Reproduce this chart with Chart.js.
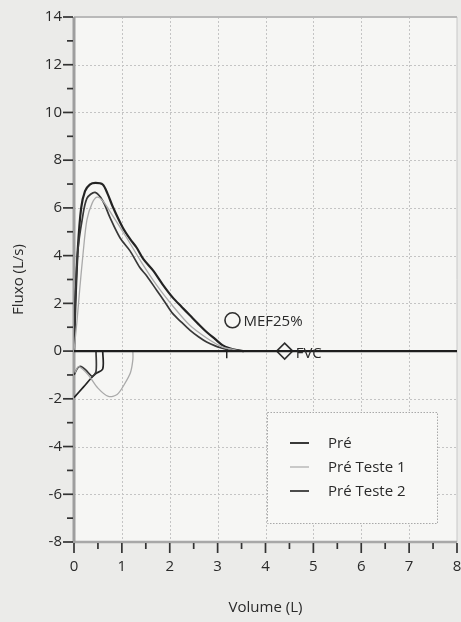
<!DOCTYPE html>
<html><head><meta charset="utf-8">
<script src="https://cdn.jsdelivr.net/npm/chart.js@4.4.1/dist/chart.umd.min.js"></script>
<style>html,body{margin:0;padding:0;background:#ebebe9;} #wrap{width:461px;height:622px;}</style>
</head><body><div id="wrap"><canvas id="c" width="461" height="622"></canvas></div>
<script>
// ---- data ----
const xTickValues = [0,1,2,3,4,5,6,7,8];
const yTickValues = [-8,-6,-4,-2,0,2,4,6,8,10,12,14];

// Pré (outer expiratory curve)
const preVol  = [0,0.03,0.08,0.15,0.23,0.33,0.45,0.6,0.7,0.81,1.02,1.17,1.31,1.45,1.65,1.85,2.06,2.25,2.42,2.6,2.77,2.95,3.1,3.25,3.4,3.55];
const preFlow = [0,2.0,4.3,6.0,6.7,6.98,7.05,6.98,6.6,6.05,5.17,4.7,4.33,3.85,3.38,2.8,2.25,1.85,1.5,1.13,0.8,0.5,0.25,0.12,0.04,0];
const preInVol  = [0,0.2,0.35,0.45,0.6,0.6];
const preInFlow = [-1.95,-1.5,-1.15,-0.95,-0.75,0];

// Pré Teste 1 (light grey)
const t1Vol  = [0,0.06,0.12,0.19,0.27,0.38,0.48,0.6,0.8,1.1,1.4,1.73,2.06,2.42,2.77,3.1,3.3,3.45];
const t1Flow = [0,1.2,2.6,4.1,5.5,6.2,6.45,6.3,5.7,4.75,3.75,2.75,1.9,1.08,0.55,0.17,0.08,0];
const t1InVol  = [0.02,0.1,0.3,0.5,0.72,0.9,1.05,1.18,1.23,1.23];
const t1InFlow = [-0.9,-0.65,-1.0,-1.55,-1.9,-1.82,-1.4,-0.9,-0.35,0];

// Pré Teste 2 (inner dark curve)
const t2Vol  = [0,0.03,0.08,0.17,0.27,0.44,0.6,0.75,0.96,1.17,1.375,1.52,1.73,1.9,2.06,2.25,2.42,2.6,2.77,2.95,3.1,3.3];
const t2Flow = [0,2.2,4.2,5.5,6.4,6.65,6.3,5.6,4.75,4.2,3.5,3.15,2.54,2.05,1.58,1.2,0.88,0.6,0.38,0.22,0.12,0];
const t2InVol  = [0,0.08,0.15,0.25,0.38,0.46,0.46];
const t2InFlow = [-1.0,-0.7,-0.65,-0.8,-1.05,-0.85,0];

// baseline and markers
const zeroVol = [0,8];
const zeroFlow = [0,0];
const fev1Vol = [3.19,3.19];
const fev1Flow = [0,-0.3];
const mefPoint = {label:'MEF25%', x:3.31, y:1.29};
const fvcPoint = {label:'FVC', x:4.4, y:0};
const legendLabels = ['Pré','Pré Teste 1','Pré Teste 2'];

const DARK = '#232323', GREY = '#aaaaaa', DARK2 = '#383838';
const FONT = "'Open Sans','Noto Sans',sans-serif";

const pts = (xs, ys) => xs.map((x,i)=>({x, y: ys[i]}));
const line = (data, color, width) => ({data, borderColor: color, borderWidth: width, showLine: true, pointRadius: 0, fill: false, tension: 0.3});

const decor = {
  id: 'decor',
  beforeDraw(chart) {
    const {ctx, chartArea: a} = chart;
    ctx.save();
    ctx.fillStyle = '#f6f6f4';
    ctx.fillRect(a.left, a.top, a.right - a.left, a.bottom - a.top);
    ctx.restore();
  },
  beforeDatasetsDraw(chart) {
    const {ctx, chartArea: a, scales: {x, y}} = chart;
    ctx.save();
    // dotted grid
    ctx.strokeStyle = '#c4c4c4'; ctx.lineWidth = 1; ctx.setLineDash([2,2]);
    for (let v = 1; v < 8; v++) { const px = Math.round(x.getPixelForValue(v)) + 0.5; ctx.beginPath(); ctx.moveTo(px, a.top); ctx.lineTo(px, a.bottom); ctx.stroke(); }
    for (let v = -6; v < 14; v += 2) { if (v === 0) continue; const py = Math.round(y.getPixelForValue(v)) + 0.5; ctx.beginPath(); ctx.moveTo(a.left, py); ctx.lineTo(a.right, py); ctx.stroke(); }
    ctx.setLineDash([]);
    // frame
    ctx.strokeStyle = '#c8c8c8'; ctx.lineWidth = 1; ctx.beginPath(); ctx.moveTo(a.right, a.top); ctx.lineTo(a.right, a.bottom); ctx.stroke();
    ctx.strokeStyle = '#b9b9b9'; ctx.lineWidth = 2; ctx.beginPath(); ctx.moveTo(a.left, a.top); ctx.lineTo(a.right, a.top); ctx.stroke();
    ctx.strokeStyle = '#a8a8a8'; ctx.lineWidth = 2.5; ctx.beginPath(); ctx.moveTo(a.left, a.bottom); ctx.lineTo(a.right, a.bottom); ctx.stroke();
    ctx.strokeStyle = '#9e9e9e'; ctx.lineWidth = 3; ctx.beginPath(); ctx.moveTo(a.left, a.top); ctx.lineTo(a.left, a.bottom + 1); ctx.stroke();
    // tick marks
    ctx.strokeStyle = '#333'; ctx.lineWidth = 1.7;
    for (let v = -8; v <= 14; v++) {
      const py = y.getPixelForValue(v); const len = (v % 2 === 0) ? 9 : 5;
      ctx.beginPath(); ctx.moveTo(a.left - 2 - len, py); ctx.lineTo(a.left - 1, py); ctx.stroke();
    }
    for (let v = 0; v <= 8; v += 0.5) {
      const px = x.getPixelForValue(v); const len = Number.isInteger(v) ? 10 : 6;
      ctx.beginPath(); ctx.moveTo(px, a.bottom + 1); ctx.lineTo(px, a.bottom + 1 + len); ctx.stroke();
    }
    ctx.restore();
  },
  afterDatasetsDraw(chart) {
    const {ctx, chartArea: a, scales: {x, y}} = chart;
    ctx.save();
    ctx.fillStyle = '#2a2a2a';
    ctx.font = '15px ' + FONT; ctx.textBaseline = 'middle'; ctx.textAlign = 'left';
    ctx.fillText(mefPoint.label, x.getPixelForValue(mefPoint.x) + 11, y.getPixelForValue(mefPoint.y) + 1);
    ctx.fillText(fvcPoint.label, x.getPixelForValue(fvcPoint.x) + 11, y.getPixelForValue(fvcPoint.y) + 3);
    // legend box
    const bx = 267, by = 412, bw = 170, bh = 111;
    ctx.fillStyle = '#f8f8f6'; ctx.fillRect(bx, by, bw, bh);
    ctx.strokeStyle = '#a9a9a9'; ctx.lineWidth = 1; ctx.setLineDash([1.5,1.5]);
    ctx.strokeRect(bx + 0.5, by + 0.5, bw, bh); ctx.setLineDash([]);
    const cols = [DARK, GREY, DARK2]; const ws = [1.8, 1.2, 1.8]; const rows = [443, 467, 491];
    ctx.font = '15px ' + FONT; ctx.textBaseline = 'middle';
    legendLabels.forEach((t, i) => {
      ctx.strokeStyle = cols[i]; ctx.lineWidth = ws[i];
      ctx.beginPath(); ctx.moveTo(290, rows[i]); ctx.lineTo(309, rows[i]); ctx.stroke();
      ctx.fillStyle = '#2a2a2a'; ctx.fillText(t, 328, rows[i] + 1);
    });
    // axis titles
    ctx.fillStyle = '#2a2a2a'; ctx.font = '15px ' + FONT; ctx.textAlign = 'center';
    ctx.fillText('Volume (L)', (a.left + a.right) / 2, 608);
    ctx.translate(19, (a.top + a.bottom) / 2); ctx.rotate(-Math.PI / 2);
    ctx.fillText('Fluxo (L/s)', 0, 0);
    ctx.restore();
  }
};

new Chart(document.getElementById('c'), {
  type: 'scatter',
  data: {
    datasets: [
      line(pts(zeroVol, zeroFlow), '#1e1e1e', 2.2),
      line(pts(t1Vol, t1Flow), GREY, 1.3),
      line(pts(t1InVol, t1InFlow), GREY, 1.3),
      line(pts(t2Vol, t2Flow), DARK2, 1.7),
      line(pts(t2InVol, t2InFlow), DARK2, 1.7),
      line(pts(preVol, preFlow), DARK, 2.2),
      line(pts(preInVol, preInFlow), DARK, 1.7),
      line(pts(fev1Vol, fev1Flow), DARK, 1.5),
      {data: [{x: mefPoint.x, y: mefPoint.y}], pointStyle: 'circle', pointRadius: 7.5, borderColor: '#2e2e2e', borderWidth: 1.6, backgroundColor: 'rgba(0,0,0,0)', showLine: false},
      {data: [{x: fvcPoint.x, y: fvcPoint.y}], pointStyle: 'rectRot', pointRadius: 8, borderColor: '#2e2e2e', borderWidth: 1.6, backgroundColor: '#f6f6f4', showLine: false}
    ]
  },
  options: {
    responsive: false, animation: false, events: [],
    layout: {autoPadding: false, padding: {top: 17, right: 4, left: 0, bottom: 0}},
    plugins: {legend: {display: false}, tooltip: {enabled: false}},
    scales: {
      x: {type: 'linear', min: 0, max: 8,
        afterFit(s) { s.height = 80; s.paddingLeft = 0; s.paddingRight = 0; },
        afterBuildTicks(s) { s.ticks = xTickValues.map(v => ({value: v})); },
        grid: {display: false, drawTicks: false}, border: {display: false},
        ticks: {padding: 16, color: '#2a2a2a', font: {family: FONT, size: 15}}},
      y: {type: 'linear', min: -8, max: 14,
        afterFit(s) { s.width = 74; s.paddingTop = 0; s.paddingBottom = 0; },
        afterBuildTicks(s) { s.ticks = yTickValues.map(v => ({value: v})); },
        grid: {display: false, drawTicks: false}, border: {display: false},
        ticks: {padding: 12, color: '#2a2a2a', font: {family: FONT, size: 15}}}
    }
  },
  plugins: [decor]
});
</script>
</body></html>
